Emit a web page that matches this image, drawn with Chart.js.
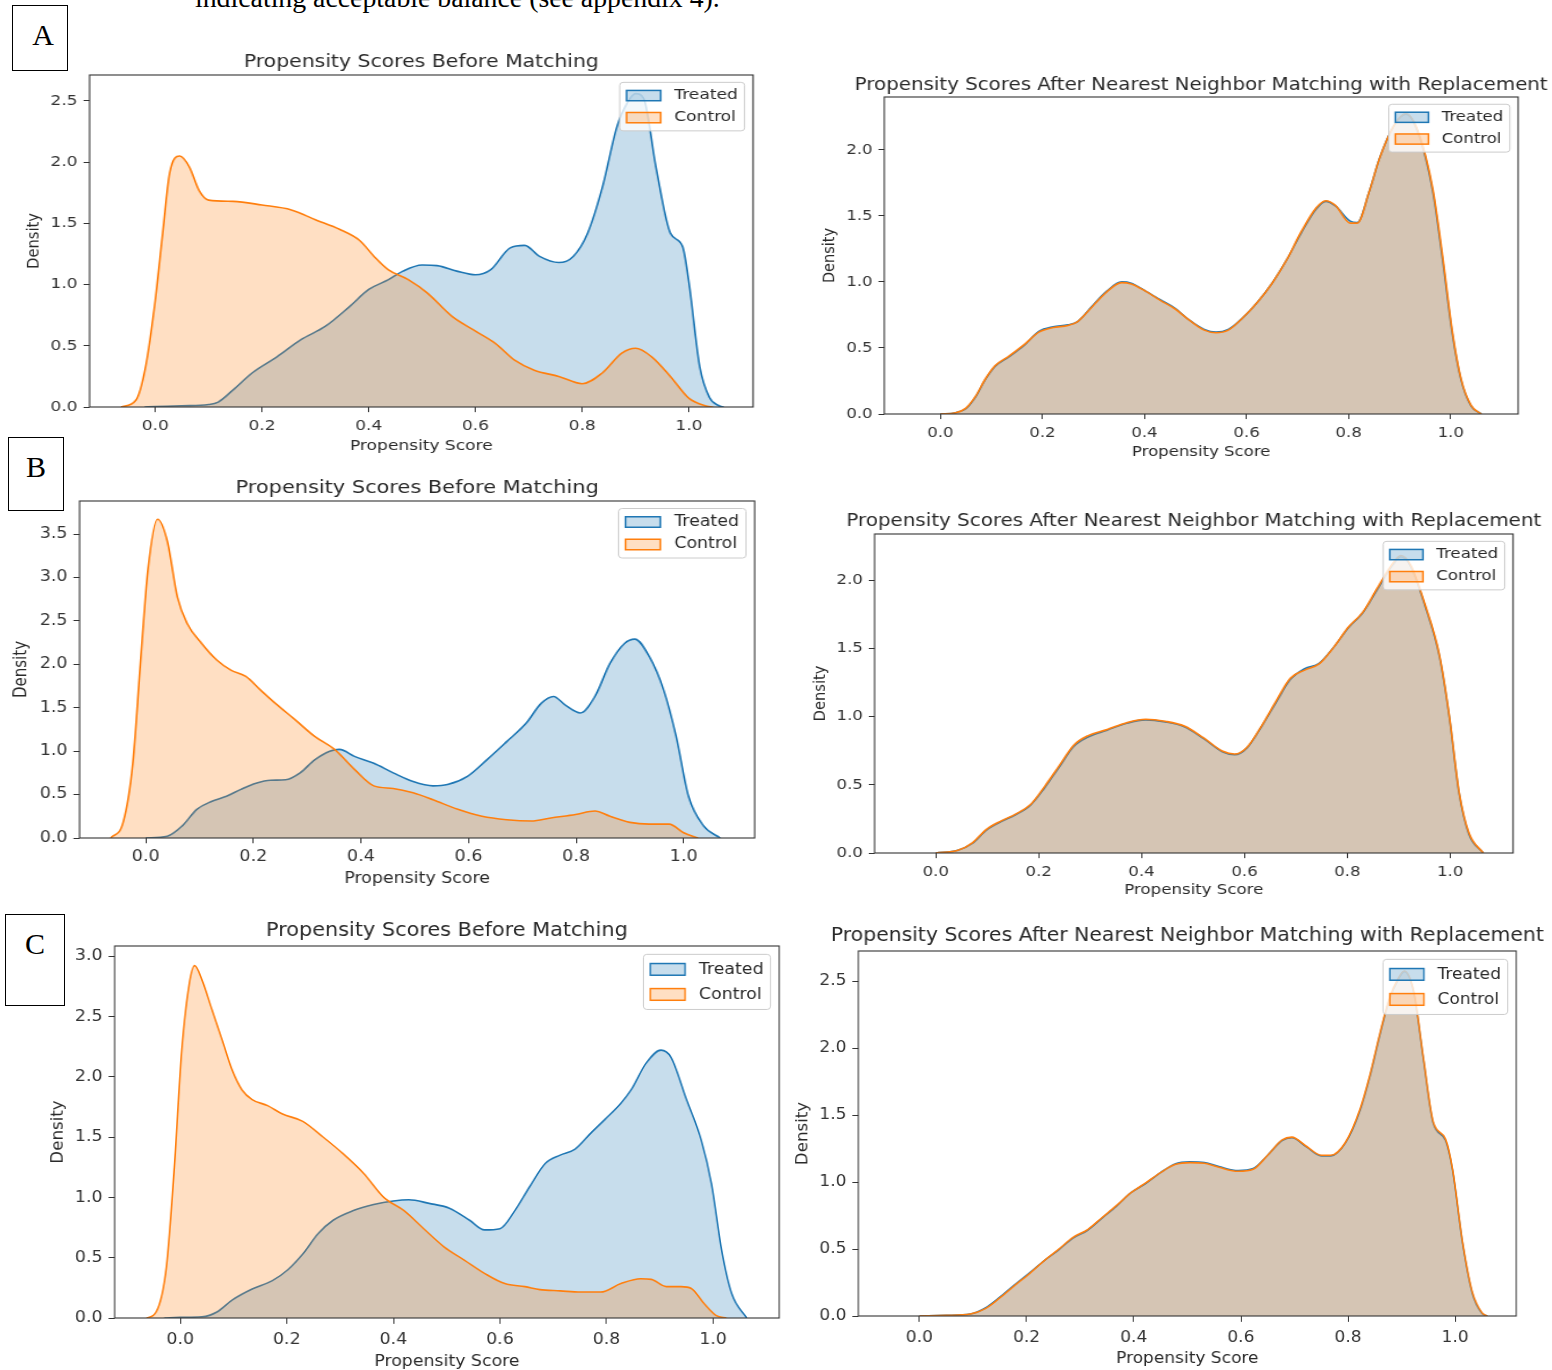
<!DOCTYPE html>
<html>
<head>
<meta charset="utf-8">
<title>Propensity score distributions</title>
<script src="https://cdn.jsdelivr.net/npm/chart.js@4.4.1/dist/chart.umd.min.js"></script>
<style>
  html, body { margin: 0; padding: 0; background: #fff; }
  body { position: relative; width: 1552px; height: 1370px; overflow: hidden; }
  canvas { position: absolute; transform-origin: 0 0; }
  .caption { position: absolute; left: 195px; top: -17.4px; font-family: 'Liberation Serif', serif; font-size: 27.8px; line-height: 30px; color: #000; white-space: nowrap; }
  .tag { position: absolute; box-sizing: border-box; border: 1px solid #000; font-family: 'Liberation Serif', serif; font-size: 30px; line-height: 58px; text-align: center; color: #000; }
</style>
</head>
<body>
<div class="caption">indicating acceptable balance (see appendix 4).</div>
<div class="tag" style="left:12px;top:5px;width:56px;height:66px;padding-left:6px;">A</div>
<div class="tag" style="left:8px;top:437px;width:56px;height:74px;">B</div>
<div class="tag" style="left:5px;top:914px;width:60px;height:92px;">C</div>

<canvas id="aBefore"></canvas>
<canvas id="aAfter"></canvas>
<canvas id="bBefore"></canvas>
<canvas id="bAfter"></canvas>
<canvas id="cBefore"></canvas>
<canvas id="cAfter"></canvas>

<script>
// Propensity score densities (KDE) for three cohorts, before / after matching
const FONT = "'DejaVu Sans', sans-serif";
const BLUE = '#1f77b4';
const ORANGE = '#ff7f0e';
const BLUE_FILL = 'rgba(31,119,180,0.25)';
const ORANGE_FILL = 'rgba(255,127,14,0.25)';
const TEXT = '#2a2a2a';

const TITLE_BEFORE = 'Propensity Scores Before Matching';
const TITLE_AFTER = 'Propensity Scores After Nearest Neighbor Matching with Replacement';
const seriesLabels = ['Treated', 'Control'];
const xTickValues = [0, 0.2, 0.4, 0.6, 0.8, 1.0];

// --- Panel A ---
const aBeforeTreatedX = [-0.02, 0.0, 0.05, 0.1, 0.118, 0.146, 0.182, 0.228, 0.273, 0.319, 0.364, 0.40, 0.437, 0.464, 0.50, 0.528, 0.565, 0.60, 0.628, 0.665, 0.692, 0.72, 0.756, 0.783, 0.81, 0.838, 0.865, 0.885, 0.90, 0.915, 0.938, 0.965, 0.988, 1.0, 1.02, 1.038, 1.056, 1.065];
const aBeforeTreatedY = [0.0, 0.003, 0.01, 0.02, 0.04, 0.14, 0.28, 0.41, 0.55, 0.66, 0.82, 0.96, 1.04, 1.11, 1.16, 1.155, 1.11, 1.08, 1.12, 1.30, 1.32, 1.23, 1.18, 1.23, 1.42, 1.80, 2.29, 2.49, 2.56, 2.52, 1.96, 1.42, 1.31, 1.01, 0.33, 0.08, 0.01, 0.0];
const aBeforeControlX = [-0.064, -0.036, -0.018, 0.0, 0.014, 0.027, 0.046, 0.064, 0.082, 0.1, 0.146, 0.2, 0.255, 0.3, 0.346, 0.383, 0.41, 0.437, 0.474, 0.51, 0.556, 0.6, 0.637, 0.674, 0.71, 0.756, 0.80, 0.838, 0.874, 0.90, 0.93, 0.965, 1.0, 1.03, 1.045];
const aBeforeControlY = [0.0, 0.057, 0.33, 0.87, 1.42, 1.91, 2.05, 1.96, 1.77, 1.69, 1.68, 1.65, 1.61, 1.53, 1.45, 1.36, 1.23, 1.12, 1.04, 0.93, 0.74, 0.62, 0.52, 0.38, 0.30, 0.25, 0.19, 0.28, 0.44, 0.48, 0.41, 0.25, 0.07, 0.01, 0.0];
const aBeforeYTicks = [0, 0.5, 1.0, 1.5, 2.0, 2.5];

const aAfterX = [0.0, 0.03, 0.05, 0.069, 0.088, 0.107, 0.135, 0.164, 0.193, 0.221, 0.25, 0.269, 0.297, 0.326, 0.355, 0.374, 0.402, 0.431, 0.46, 0.488, 0.517, 0.54, 0.564, 0.593, 0.622, 0.65, 0.679, 0.707, 0.736, 0.755, 0.774, 0.803, 0.817, 0.84, 0.86, 0.888, 0.912, 0.936, 0.965, 0.984, 1.003, 1.02, 1.04, 1.06];
const aAfterTreatedY = [0.0, 0.01, 0.04, 0.13, 0.26, 0.36, 0.435, 0.52, 0.625, 0.66, 0.675, 0.70, 0.815, 0.93, 1.0, 0.99, 0.93, 0.865, 0.80, 0.71, 0.64, 0.62, 0.64, 0.73, 0.85, 0.99, 1.17, 1.37, 1.55, 1.61, 1.575, 1.46, 1.45, 1.68, 1.93, 2.18, 2.27, 2.13, 1.68, 1.17, 0.61, 0.26, 0.06, 0.0];
const aAfterControlY = [0.0, 0.01, 0.045, 0.135, 0.265, 0.365, 0.44, 0.525, 0.62, 0.655, 0.67, 0.70, 0.81, 0.925, 0.995, 0.985, 0.93, 0.86, 0.795, 0.71, 0.635, 0.615, 0.635, 0.73, 0.85, 0.99, 1.17, 1.38, 1.56, 1.615, 1.58, 1.445, 1.445, 1.68, 1.93, 2.18, 2.275, 2.14, 1.70, 1.20, 0.63, 0.27, 0.065, 0.0];
const aAfterYTicks = [0, 0.5, 1.0, 1.5, 2.0];

// --- Panel B ---
const bBeforeTreatedX = [0.0, 0.04, 0.068, 0.095, 0.122, 0.15, 0.177, 0.205, 0.232, 0.26, 0.287, 0.314, 0.342, 0.36, 0.388, 0.424, 0.46, 0.497, 0.534, 0.561, 0.598, 0.634, 0.671, 0.707, 0.735, 0.758, 0.78, 0.808, 0.835, 0.863, 0.89, 0.909, 0.936, 0.963, 0.986, 1.009, 1.037, 1.068];
const bBeforeTreatedY = [0.0, 0.02, 0.14, 0.33, 0.42, 0.48, 0.56, 0.63, 0.665, 0.67, 0.75, 0.90, 1.0, 1.02, 0.94, 0.86, 0.75, 0.65, 0.60, 0.615, 0.71, 0.90, 1.11, 1.32, 1.55, 1.63, 1.53, 1.44, 1.63, 2.01, 2.24, 2.29, 2.09, 1.70, 1.17, 0.48, 0.14, 0.0];
const bBeforeControlX = [-0.065, -0.042, -0.024, -0.01, 0.004, 0.022, 0.04, 0.059, 0.077, 0.104, 0.132, 0.159, 0.186, 0.214, 0.241, 0.278, 0.314, 0.351, 0.388, 0.424, 0.46, 0.497, 0.534, 0.58, 0.625, 0.671, 0.717, 0.753, 0.799, 0.835, 0.863, 0.9, 0.936, 0.973, 1.0, 1.027];
const bBeforeControlY = [0.0, 0.18, 0.86, 2.0, 3.08, 3.67, 3.42, 2.77, 2.47, 2.24, 2.05, 1.93, 1.86, 1.70, 1.55, 1.36, 1.17, 1.02, 0.79, 0.60, 0.57, 0.52, 0.44, 0.33, 0.25, 0.21, 0.195, 0.23, 0.27, 0.31, 0.25, 0.18, 0.16, 0.16, 0.06, 0.0];
const bBeforeYTicks = [0, 0.5, 1.0, 1.5, 2.0, 2.5, 3.0, 3.5];

const bAfterX = [0.0, 0.043, 0.071, 0.099, 0.127, 0.155, 0.184, 0.212, 0.24, 0.268, 0.296, 0.333, 0.371, 0.408, 0.446, 0.483, 0.52, 0.558, 0.581, 0.605, 0.633, 0.661, 0.689, 0.717, 0.745, 0.774, 0.802, 0.83, 0.858, 0.886, 0.904, 0.923, 0.951, 0.979, 0.998, 1.017, 1.036, 1.064];
const bAfterTreatedY = [0.0, 0.02, 0.07, 0.17, 0.23, 0.28, 0.35, 0.48, 0.63, 0.78, 0.85, 0.90, 0.95, 0.975, 0.96, 0.925, 0.84, 0.74, 0.72, 0.77, 0.925, 1.10, 1.27, 1.35, 1.39, 1.51, 1.65, 1.76, 1.93, 2.10, 2.17, 2.10, 1.81, 1.44, 1.0, 0.44, 0.14, 0.0];
const bAfterControlY = [0.0, 0.02, 0.075, 0.175, 0.235, 0.285, 0.355, 0.49, 0.64, 0.79, 0.86, 0.905, 0.955, 0.98, 0.965, 0.93, 0.845, 0.745, 0.725, 0.775, 0.93, 1.11, 1.28, 1.34, 1.385, 1.51, 1.655, 1.765, 1.94, 2.11, 2.18, 2.11, 1.82, 1.45, 1.01, 0.45, 0.15, 0.0];
const bAfterYTicks = [0, 0.5, 1.0, 1.5, 2.0];

// --- Panel C ---
const cBeforeTreatedX = [-0.03, 0.0, 0.041, 0.069, 0.098, 0.135, 0.173, 0.202, 0.23, 0.259, 0.287, 0.325, 0.363, 0.40, 0.429, 0.467, 0.505, 0.543, 0.571, 0.6, 0.628, 0.656, 0.685, 0.713, 0.741, 0.77, 0.798, 0.827, 0.846, 0.874, 0.902, 0.921, 0.95, 0.978, 0.997, 1.016, 1.035, 1.063];
const cBeforeTreatedY = [0.0, 0.005, 0.01, 0.05, 0.15, 0.24, 0.31, 0.40, 0.53, 0.70, 0.81, 0.89, 0.94, 0.97, 0.98, 0.95, 0.91, 0.81, 0.73, 0.74, 0.89, 1.09, 1.28, 1.35, 1.40, 1.53, 1.65, 1.78, 1.89, 2.11, 2.22, 2.16, 1.81, 1.47, 1.11, 0.56, 0.20, 0.0];
const cBeforeControlX = [-0.063, -0.045, -0.026, -0.011, 0.003, 0.017, 0.027, 0.041, 0.06, 0.079, 0.098, 0.116, 0.135, 0.164, 0.192, 0.23, 0.268, 0.306, 0.344, 0.382, 0.42, 0.457, 0.495, 0.533, 0.571, 0.609, 0.647, 0.675, 0.713, 0.751, 0.789, 0.827, 0.864, 0.884, 0.912, 0.94, 0.959, 0.983, 1.006, 1.025];
const cBeforeControlY = [0.0, 0.05, 0.42, 1.25, 2.22, 2.77, 2.92, 2.80, 2.55, 2.30, 2.05, 1.89, 1.81, 1.76, 1.69, 1.63, 1.50, 1.36, 1.20, 1.0, 0.89, 0.74, 0.59, 0.48, 0.37, 0.285, 0.26, 0.235, 0.225, 0.215, 0.215, 0.285, 0.325, 0.32, 0.26, 0.26, 0.245, 0.12, 0.02, 0.0];
const cBeforeYTicks = [0, 0.5, 1.0, 1.5, 2.0, 2.5, 3.0];

const cAfterX = [0.0, 0.05, 0.095, 0.123, 0.15, 0.177, 0.205, 0.232, 0.259, 0.286, 0.314, 0.341, 0.368, 0.395, 0.423, 0.45, 0.477, 0.505, 0.532, 0.559, 0.595, 0.623, 0.65, 0.677, 0.695, 0.723, 0.75, 0.768, 0.795, 0.823, 0.841, 0.859, 0.877, 0.895, 0.905, 0.923, 0.941, 0.959, 0.982, 0.995, 1.014, 1.032, 1.05, 1.06];
const cAfterTreatedY = [0.0, 0.005, 0.015, 0.06, 0.14, 0.23, 0.32, 0.41, 0.49, 0.58, 0.64, 0.73, 0.82, 0.92, 0.99, 1.07, 1.135, 1.15, 1.145, 1.115, 1.085, 1.10, 1.20, 1.31, 1.33, 1.26, 1.195, 1.195, 1.29, 1.54, 1.79, 2.09, 2.36, 2.52, 2.57, 2.41, 1.91, 1.44, 1.31, 1.09, 0.54, 0.17, 0.02, 0.0];
const cAfterControlY = [0.0, 0.005, 0.015, 0.055, 0.135, 0.225, 0.315, 0.41, 0.495, 0.585, 0.645, 0.735, 0.825, 0.92, 0.995, 1.07, 1.13, 1.145, 1.14, 1.11, 1.08, 1.095, 1.20, 1.315, 1.335, 1.265, 1.2, 1.2, 1.295, 1.55, 1.80, 2.10, 2.37, 2.53, 2.575, 2.42, 1.92, 1.45, 1.32, 1.10, 0.55, 0.18, 0.025, 0.0];
const cAfterYTicks = [0, 0.5, 1.0, 1.5, 2.0, 2.5];

// Panel layout: plot box in page pixels, horizontal stretch of the source image, font sizes
const panels = [
  { id: 'aBefore', title: TITLE_BEFORE, box: { left: 90, right: 754, top: 75, bottom: 407 }, sx: 1.16, font: 14.7, titleFont: 17.6,
    titleGap: 13, xTitleGap: 39, yTitleGap: 56, xMin: -0.123, xMax: 1.12, yMax: 2.712, yTicks: aBeforeYTicks,
    treated: [aBeforeTreatedX, aBeforeTreatedY], control: [aBeforeControlX, aBeforeControlY] },
  { id: 'aAfter', title: TITLE_AFTER, box: { left: 884, right: 1518, top: 97, bottom: 414 }, sx: 1.14, font: 14.5, titleFont: 17.4,
    titleGap: 12, xTitleGap: 38, yTitleGap: 55, xMin: -0.11, xMax: 1.132, yMax: 2.40, yTicks: aAfterYTicks,
    treated: [aAfterX, aAfterTreatedY], control: [aAfterX, aAfterControlY] },
  { id: 'bBefore', title: TITLE_BEFORE, box: { left: 80, right: 755, top: 501, bottom: 838 }, sx: 1.16, font: 15.0, titleFont: 18,
    titleGap: 13, xTitleGap: 41, yTitleGap: 58, xMin: -0.123, xMax: 1.132, yMax: 3.88, yTicks: bBeforeYTicks,
    treated: [bBeforeTreatedX, bBeforeTreatedY], control: [bBeforeControlX, bBeforeControlY] },
  { id: 'bAfter', title: TITLE_AFTER, box: { left: 875, right: 1513, top: 534, bottom: 853 }, sx: 1.13, font: 14.7, titleFont: 17.6,
    titleGap: 13, xTitleGap: 37, yTitleGap: 54, xMin: -0.119, xMax: 1.122, yMax: 2.337, yTicks: bAfterYTicks,
    treated: [bAfterX, bAfterTreatedY], control: [bAfterX, bAfterControlY] },
  { id: 'cBefore', title: TITLE_BEFORE, box: { left: 115, right: 780, top: 946, bottom: 1318 }, sx: 1.04, font: 16.7, titleFont: 20,
    titleGap: 15, xTitleGap: 44, yTitleGap: 57, xMin: -0.123, xMax: 1.124, yMax: 3.083, yTicks: cBeforeYTicks,
    treated: [cBeforeTreatedX, cBeforeTreatedY], control: [cBeforeControlX, cBeforeControlY] },
  { id: 'cAfter', title: TITLE_AFTER, box: { left: 858, right: 1516, top: 951, bottom: 1316 }, sx: 1.02, font: 16.7, titleFont: 20,
    titleGap: 15, xTitleGap: 43, yTitleGap: 55, xMin: -0.114, xMax: 1.114, yMax: 2.724, yTicks: cAfterYTicks,
    treated: [cAfterX, cAfterTreatedY], control: [cAfterX, cAfterControlY] }
];

const SIDE = 66;    // axis room left (and mirrored on the right so titles centre on the box)
const TOP = 40;     // room for the title
const BOTTOM = 57;  // room for tick labels + axis title

function points(xs, ys) {
  return xs.map((x, i) => ({ x: x, y: ys[i] }));
}

// Draws the closed axes frame and a matplotlib-style legend box
const frameLegend = {
  id: 'frameLegend',
  afterDatasetsDraw(chart, args, opts) {
    const ctx = chart.ctx;
    const a = chart.chartArea;
    const f = opts.size;
    ctx.save();
    ctx.strokeStyle = '#333';
    ctx.lineWidth = 1.1;
    ctx.strokeRect(a.left, a.top, a.right - a.left, a.bottom - a.top);

    ctx.font = f + 'px ' + FONT;
    const items = chart.data.datasets;
    const textW = Math.max(...items.map(d => ctx.measureText(d.label).width));
    const w = 3.6 * f + textW;
    const h = 3.3 * f;
    const x = a.right - 0.5 * f - w;
    const y = a.top + 0.5 * f;
    ctx.beginPath();
    ctx.roundRect(x, y, w, h, 0.2 * f);
    ctx.fillStyle = 'rgba(255,255,255,0.8)';
    ctx.fill();
    ctx.strokeStyle = '#cccccc';
    ctx.lineWidth = 1;
    ctx.stroke();

    items.forEach((d, i) => {
      const cy = y + 0.9 * f + i * 1.5 * f;
      const px = x + 0.4 * f;
      ctx.fillStyle = d.backgroundColor;
      ctx.fillRect(px, cy - 0.35 * f, 2 * f, 0.7 * f);
      ctx.strokeStyle = d.borderColor;
      ctx.lineWidth = 1.5;
      ctx.strokeRect(px, cy - 0.35 * f, 2 * f, 0.7 * f);
      ctx.fillStyle = TEXT;
      ctx.textBaseline = 'middle';
      ctx.textAlign = 'left';
      ctx.fillText(d.label, x + 3.2 * f, cy);
    });
    ctx.restore();
  }
};

function drawPanel(p) {
  const canvas = document.getElementById(p.id);
  const boxW = (p.box.right - p.box.left) / p.sx;
  const boxH = p.box.bottom - p.box.top;
  canvas.width = Math.round(boxW + 2 * SIDE);
  canvas.height = boxH + TOP + BOTTOM;
  canvas.style.left = (p.box.left - SIDE * p.sx) + 'px';
  canvas.style.top = (p.box.top - TOP) + 'px';
  canvas.style.transform = 'scaleX(' + p.sx + ')';

  const f = p.font;
  const tickFont = { family: FONT, size: f, lineHeight: 1.2 };
  const titlePadBottom = p.titleGap - 0.6 * p.titleFont;
  const titlePadTop = TOP - 1.2 * p.titleFont - titlePadBottom;

  new Chart(canvas.getContext('2d'), {
    type: 'line',
    data: {
      datasets: [
        {
          label: seriesLabels[0],
          data: points(p.treated[0], p.treated[1]),
          borderColor: BLUE,
          backgroundColor: BLUE_FILL,
          borderWidth: 1.6,
          fill: 'origin',
          pointRadius: 0,
          cubicInterpolationMode: 'monotone',
          order: 2
        },
        {
          label: seriesLabels[1],
          data: points(p.control[0], p.control[1]),
          borderColor: ORANGE,
          backgroundColor: ORANGE_FILL,
          borderWidth: 1.6,
          fill: 'origin',
          pointRadius: 0,
          cubicInterpolationMode: 'monotone',
          order: 1
        }
      ]
    },
    options: {
      responsive: false,
      animation: false,
      devicePixelRatio: 1,
      layout: { padding: 0 },
      plugins: {
        legend: { display: false },
        tooltip: { enabled: false },
        title: {
          display: true,
          text: p.title,
          color: TEXT,
          font: { family: FONT, size: p.titleFont, weight: 'normal', lineHeight: 1.2 },
          padding: { top: titlePadTop, bottom: titlePadBottom }
        },
        frameLegend: { size: f }
      },
      scales: {
        x: {
          type: 'linear',
          min: p.xMin,
          max: p.xMax,
          afterBuildTicks: s => { s.ticks = xTickValues.map(v => ({ value: v })); },
          afterFit: s => { s.height = BOTTOM; },
          ticks: { callback: v => v.toFixed(1), font: tickFont, color: '#333', padding: 0.35 * f, maxRotation: 0, minRotation: 0, autoSkip: false },
          grid: { drawOnChartArea: false, drawTicks: true, tickLength: 0.35 * f, color: '#333', lineWidth: 1 },
          border: { display: false },
          title: { display: true, text: 'Propensity Score', color: TEXT, font: tickFont, padding: { top: 0, bottom: BOTTOM - p.xTitleGap - 0.6 * f } }
        },
        y: {
          type: 'linear',
          position: 'left',
          min: 0,
          max: p.yMax,
          afterBuildTicks: s => { s.ticks = p.yTicks.map(v => ({ value: v })); },
          afterFit: s => { s.width = SIDE; },
          ticks: { callback: v => v.toFixed(1), font: tickFont, color: '#333', padding: 0.35 * f },
          grid: { drawOnChartArea: false, drawTicks: true, tickLength: 0.35 * f, color: '#333', lineWidth: 1 },
          border: { display: false },
          title: { display: true, text: 'Density', color: TEXT, font: tickFont, padding: { top: SIDE - p.yTitleGap / p.sx - 0.6 * f, bottom: 0 } }
        },
        yPad: {
          type: 'linear',
          position: 'right',
          display: true,
          afterFit: s => { s.width = SIDE; },
          ticks: { display: false },
          grid: { display: false },
          border: { display: false }
        }
      }
    },
    plugins: [frameLegend]
  });
}

panels.forEach(drawPanel);
</script>
</body>
</html>
